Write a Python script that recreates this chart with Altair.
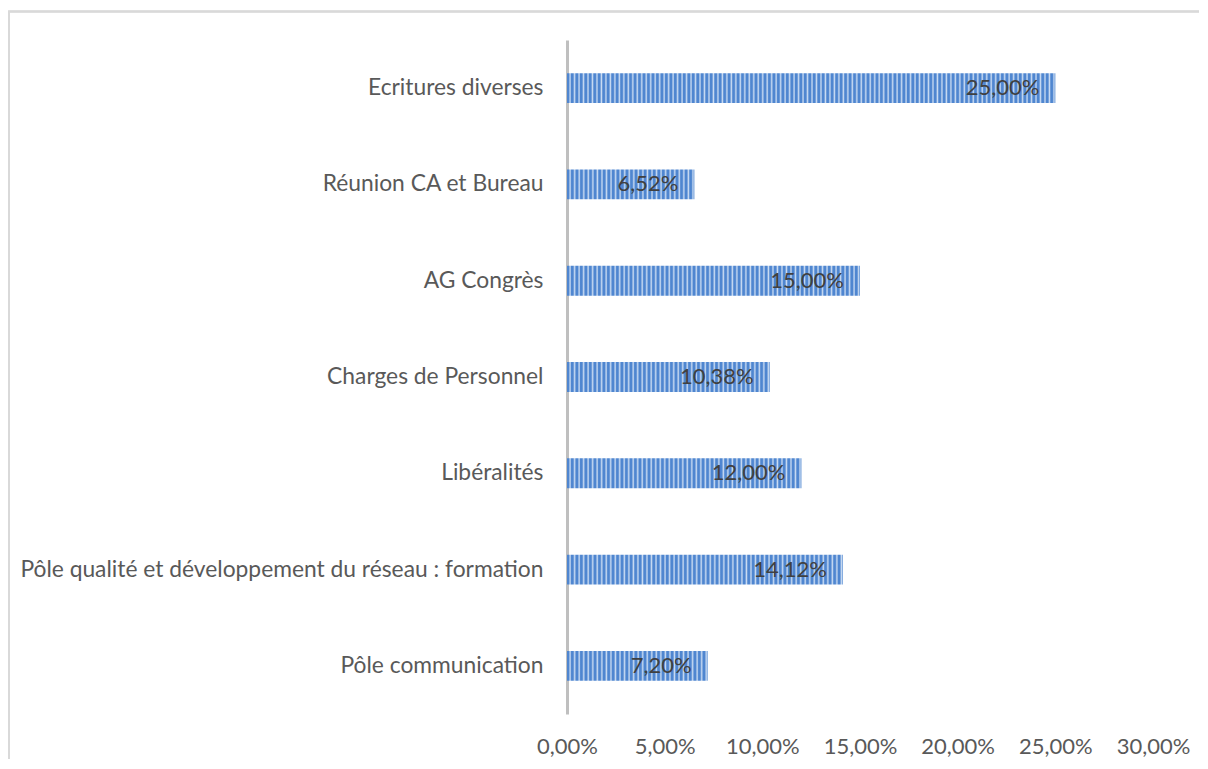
import altair as alt
import pandas as pd

categories = [
    "Ecritures diverses",
    "Réunion CA et Bureau",
    "AG Congrès",
    "Charges de Personnel",
    "Libéralités",
    "Pôle qualité et développement du réseau : formation",
    "Pôle communication",
]
values = [0.25, 0.0652, 0.15, 0.1038, 0.12, 0.1412, 0.072]
x_ticks = [0, 0.05, 0.10, 0.15, 0.20, 0.25, 0.30]

df = pd.DataFrame({"cat": categories, "v": values})

FONT = "Lato"
DARK = "#4f86d0"
LIGHT = "#c9dbf2"
W, H = 586, 674
PX_PER_UNIT = W / 0.30
STRIPE_PX = 4.5

x_enc = alt.X("v:Q", scale=alt.Scale(domain=[0, 0.30], nice=False, zero=True),
              axis=alt.Axis(values=x_ticks, labelExpr="replace(format(datum.value, '.2%'), '.', ',')",
                            domain=False, ticks=False, grid=False, labelPadding=22,
                            labelFlush=False, labelOverlap=False, labelAlign="center",
                            labelFont=FONT, labelFontSize=22, labelColor="#595959", title=None))
y_enc = alt.Y("cat:N", sort=categories,
              scale=alt.Scale(paddingInner=0.69, paddingOuter=0.345),
              axis=alt.Axis(domain=True, domainColor="#bfbfbf", domainWidth=3, ticks=False,
                            grid=False, labelPadding=24, labelFont=FONT, labelFontSize=22.8,
                            labelColor="#595959", labelLimit=700, title=None))

base = alt.Chart(df)

bar_layers = []
for c, v in zip(categories, values):
    n = max(1, round(v * PX_PER_UNIT / STRIPE_PX))
    stops = []
    for k in range(n):
        stops.append(alt.GradientStop(offset=k / n, color=DARK))
        stops.append(alt.GradientStop(offset=(k + 0.35) / n, color=DARK))
        stops.append(alt.GradientStop(offset=(k + 0.7) / n, color=LIGHT))
    stops.append(alt.GradientStop(offset=1.0, color=DARK))
    grad = alt.LinearGradient(gradient="linear", stops=stops, x1=0, x2=1, y1=0, y2=0)
    bar_layers.append(
        base.transform_filter(alt.datum.cat == c)
        .mark_bar(color=grad)
        .encode(x=x_enc, y=y_enc)
    )

labels = (
    base.transform_calculate(lbl="replace(format(datum.v, '.2%'), '.', ',')")
    .mark_text(align="right", baseline="middle", dx=-16, font=FONT, fontSize=22, color="#404040")
    .encode(x=x_enc, y=y_enc, text="lbl:N")
)

border = base.mark_rect(fill=None, stroke="#d9d9d9", strokeWidth=1.5).encode(
    x=alt.value(-558), x2=alt.value(1000), y=alt.value(-28.5), y2=alt.value(900)
)

chart = (
    alt.layer(border, *bar_layers, labels)
    .properties(width=W, height=H, background="white",
                padding={"left": 559, "top": 32, "right": 46, "bottom": 45},
                autosize=alt.AutoSizeParams(type="none"))
    .configure_view(strokeWidth=0, stroke="transparent")
)

chart.save("out.html", embed_options={"renderer": "svg", "actions": False})
